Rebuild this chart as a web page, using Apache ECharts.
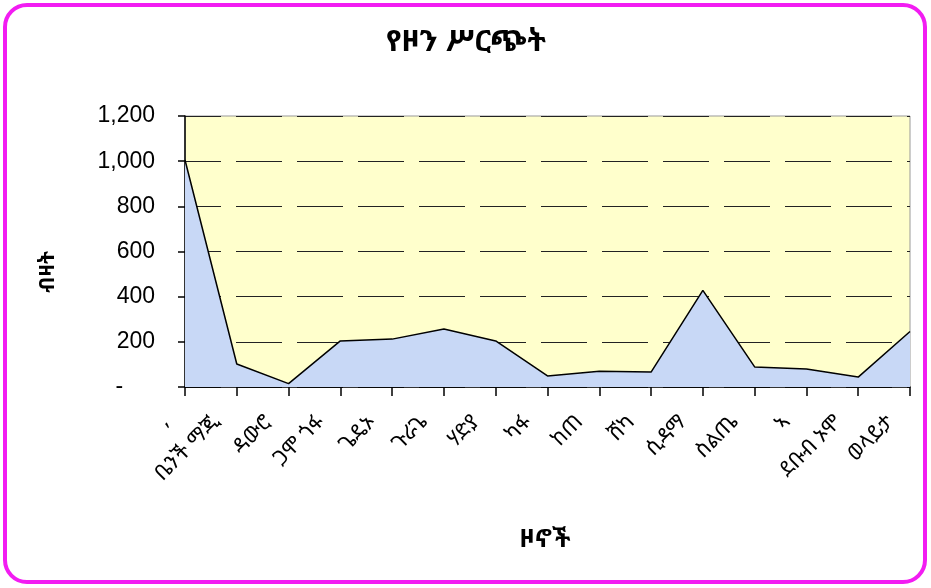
<!DOCTYPE html>
<html>
<head>
<meta charset="utf-8">
<script src="https://cdn.jsdelivr.net/npm/echarts@6/dist/echarts.min.js"></script>
<style>
  html, body { margin: 0; padding: 0; background: #fff; }
  #chart { width: 931px; height: 588px; }
</style>
</head>
<body>
<div id="chart"></div>
<script>
// ዞኖች (categories)
var zones = [",", "ቤንች ማጂ", "ዳውሮ", "ጋሞ ጎፋ", "ጌዴኦ", "ጉራጌ", "ሃድያ", "ካፋ", "ከጠ", "ሸካ", "ሲዳማ", "ስልጤ", "ኣ", "ደቡብ ኦሞ", "ወላይታ"];
// ብዛት (counts)
var counts = [1005, 102, 15, 204, 212, 257, 204, 49, 70, 66, 428, 89, 80, 44, 246];
var yTicks = { min: 0, max: 1200, interval: 200 };

var ethFont = "'Noto Sans Ethiopic', 'Abyssinica SIL', 'DejaVu Sans', 'Noto Sans', sans-serif";

var chart = echarts.init(document.getElementById("chart"));
var option = {
  backgroundColor: "#ffffff",
  animation: false,
  grid: { left: 185, right: 21, top: 116, bottom: 201, show: true, backgroundColor: "#ffffcc", borderColor: "#999999", borderWidth: 1 },
  graphic: [
    // outer rounded frame
    { type: "rect", shape: { x: 5, y: 5, width: 920, height: 577, r: 22 }, style: { fill: "none", stroke: "#f21cf2", lineWidth: 4 }, z: 10 },
    { type: "text", x: 466, y: 42, style: { text: "የዞን ሥርጭት", font: "bold 30px " + ethFont, fill: "#000", align: "center", verticalAlign: "middle" } },
    { type: "text", x: 48, y: 272, rotation: Math.PI / 2, style: { text: "ብዛት", font: "bold 21px " + ethFont, fill: "#000", align: "center", verticalAlign: "middle" } },
    { type: "text", x: 545, y: 540, style: { text: "ዞኖች", font: "bold 25px " + ethFont, fill: "#000", align: "center", verticalAlign: "middle" } }
  ],
  xAxis: {
    type: "category",
    data: zones,
    boundaryGap: false,
    axisLine: { lineStyle: { color: "#000", width: 1.5 } },
    axisTick: { show: true, alignWithLabel: true, length: 9, lineStyle: { color: "#000", width: 1.5 } },
    axisLabel: { interval: 0, rotate: 45, fontSize: 21, color: "#000", fontFamily: ethFont, margin: 12, padding: [0, 28, 0, 0] },
    splitLine: { show: false }
  },
  yAxis: {
    type: "value",
    min: yTicks.min,
    max: yTicks.max,
    interval: yTicks.interval,
    axisLine: { show: true, lineStyle: { color: "#000", width: 1.5 } },
    axisTick: { show: true, length: 7, lineStyle: { color: "#000", width: 1.5 } },
    axisLabel: {
      fontSize: 23, color: "#000", fontFamily: "Liberation Sans, Arial, sans-serif", margin: 30,
      formatter: function (v) { return v === 0 ? "-     " : v.toLocaleString("en-US"); }
    },
    splitLine: { show: true, lineStyle: { color: "#222", width: 1.2, type: [46, 15], dashOffset: 10 } }
  },
  series: [{
    type: "line",
    data: counts,
    symbol: "none",
    lineStyle: { color: "#000", width: 1.5 },
    areaStyle: { color: "#c8d8f6", opacity: 1 }
  }]
};
chart.setOption(option);
</script>
</body>
</html>
